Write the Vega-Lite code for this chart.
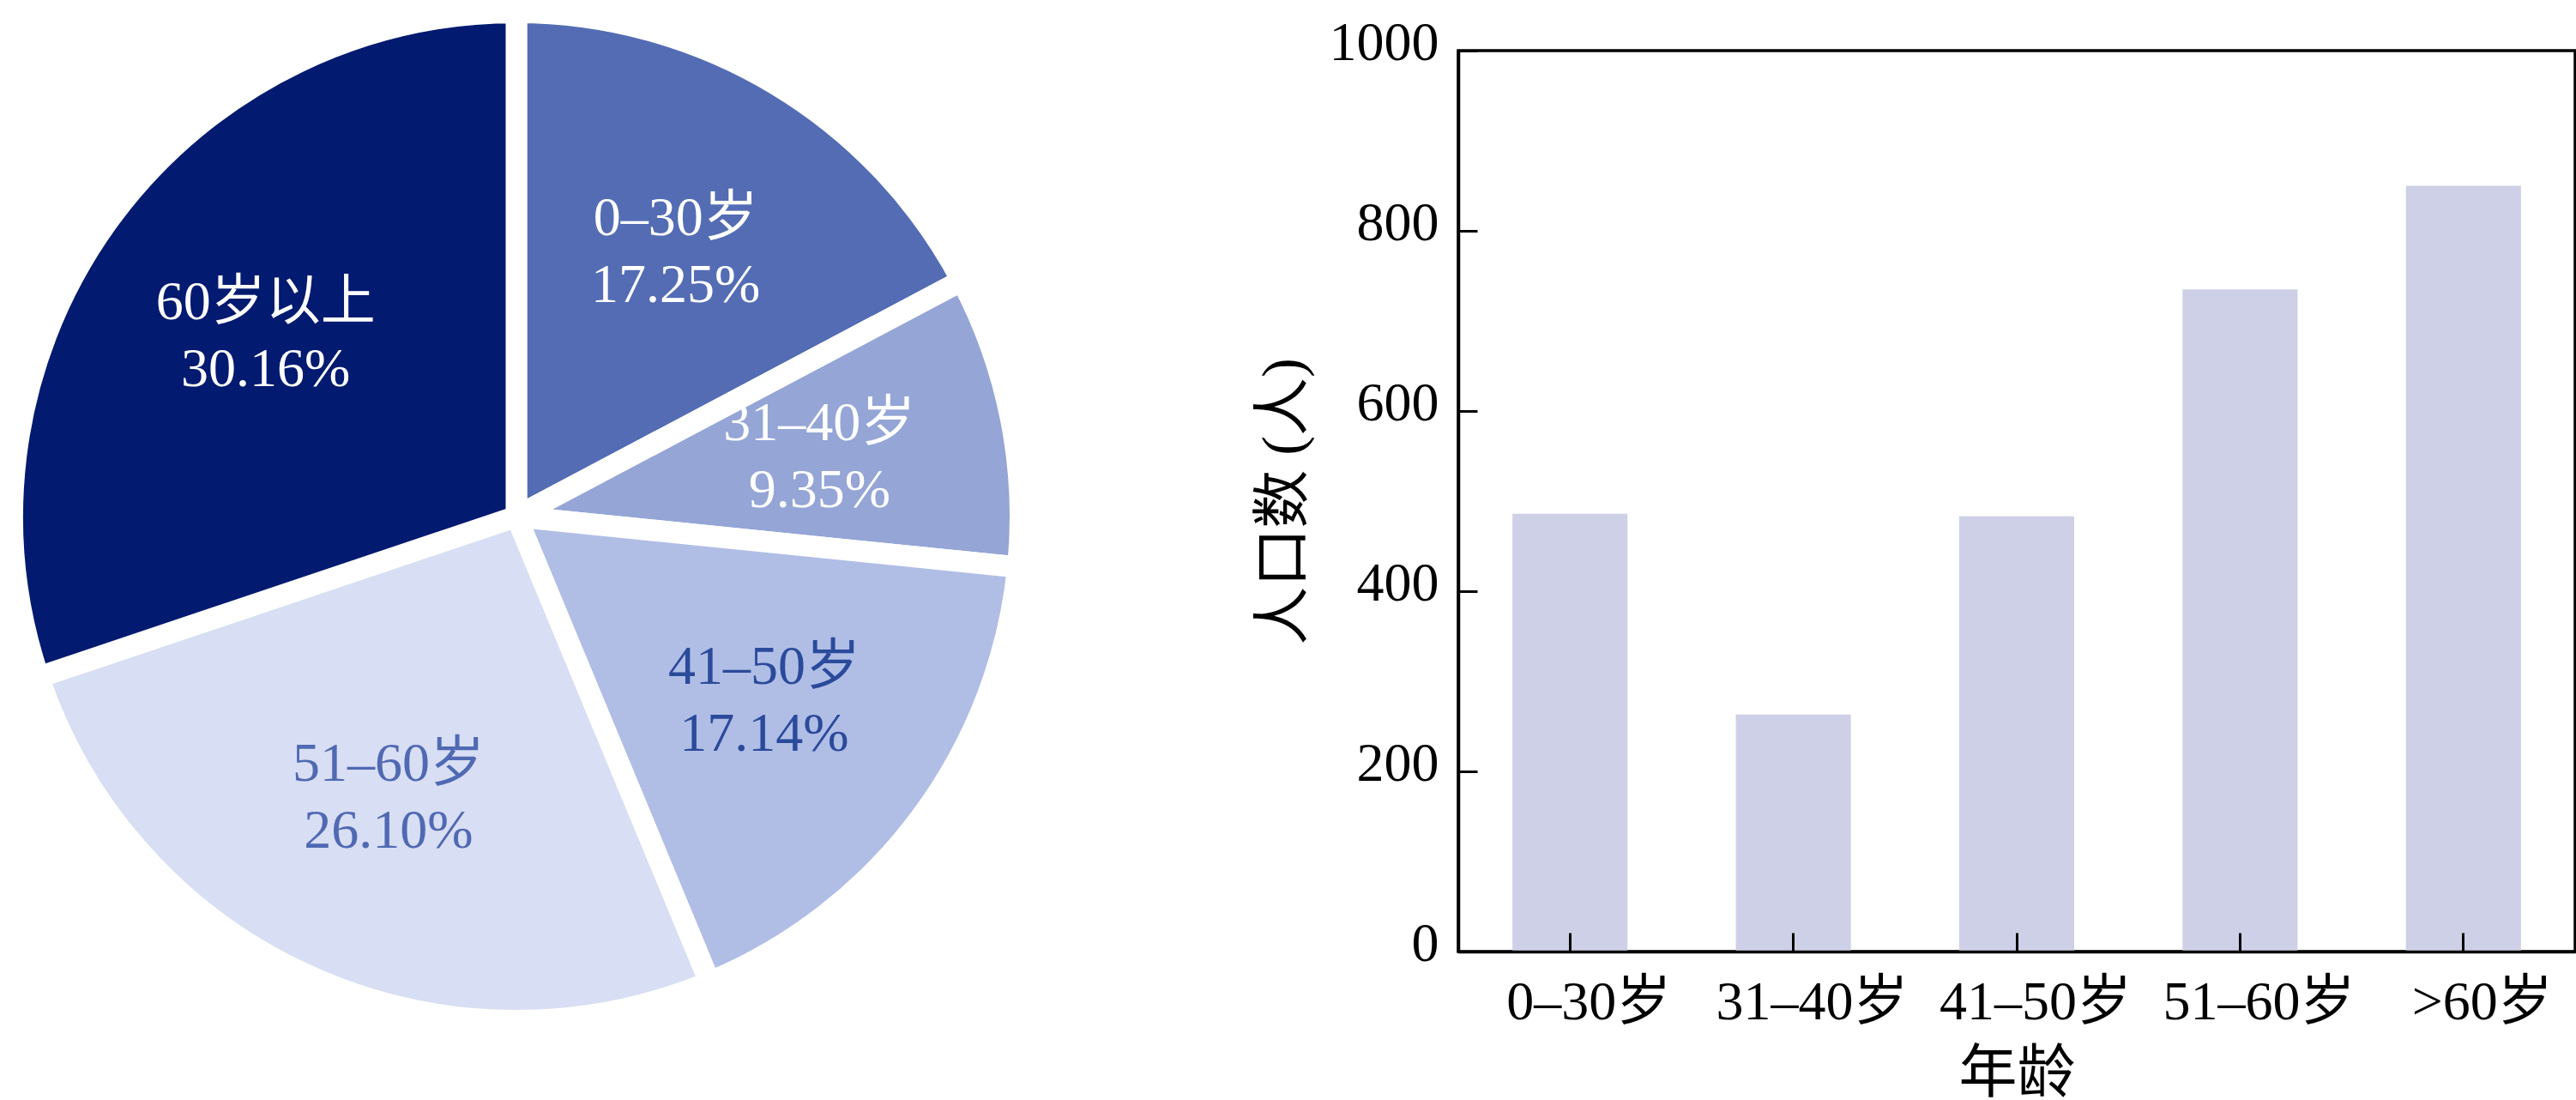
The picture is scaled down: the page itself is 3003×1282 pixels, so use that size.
{
  "$schema": "https://vega.github.io/schema/vega-lite/v6.json",
  "padding": {"left": -36, "top": -36, "right": 0, "bottom": 0},
  "background": "white",
  "bounds": "flush",
  "spacing": 555,
  "data": {
    "values": [
      {"age": "0–30岁", "pie": "0–30岁", "share": 0.1725, "count": 486},
      {"age": "31–40岁", "pie": "31–40岁", "share": 0.0935, "count": 263},
      {"age": "41–50岁", "pie": "41–50岁", "share": 0.1714, "count": 483},
      {"age": "51–60岁", "pie": "51–60岁", "share": 0.2610, "count": 735},
      {"age": ">60岁", "pie": "60岁以上", "share": 0.3016, "count": 850}
    ]
  },
  "hconcat": [
    {
      "width": 1086,
      "height": 1086,
      "view": {"stroke": null},
      "layer": [
        {
          "mark": {"type": "arc", "radius": 587.5, "stroke": "white", "strokeWidth": 25},
          "encoding": {
            "theta": {"field": "share", "type": "quantitative", "stack": true},
            "color": {
              "field": "pie", "type": "nominal", "legend": null,
              "scale": {"range": ["#536cb4", "#94a5d6", "#b0bee6", "#d8def3", "#021a70"]}
            }
          }
        },
        {
          "mark": {"type": "text", "radius": 360, "dy": -39, "fontSize": 64},
          "encoding": {
            "theta": {"field": "share", "type": "quantitative", "stack": true},
            "text": {"field": "pie"},
            "color": {
              "field": "pie", "type": "nominal", "legend": null,
              "scale": {"range": ["#ffffff", "#ffffff", "#2b4a9b", "#5069b3", "#ffffff"]}
            }
          }
        },
        {
          "mark": {"type": "text", "radius": 360, "dy": 39, "fontSize": 64},
          "encoding": {
            "theta": {"field": "share", "type": "quantitative", "stack": true},
            "text": {"field": "share", "format": ".2%"},
            "color": {
              "field": "pie", "type": "nominal", "legend": null,
              "scale": {"range": ["#ffffff", "#ffffff", "#2b4a9b", "#5069b3", "#ffffff"]}
            }
          }
        }
      ],
      "resolve": {"scale": {"color": "independent"}}
    },
    {
      "width": 1302,
      "height": 1050,
      "view": {"stroke": "black", "strokeWidth": 3.5},
      "mark": {"type": "bar", "color": "#cdd0e6"},
      "encoding": {
        "x": {
          "field": "age", "type": "nominal", "sort": null, "title": "年龄",
          "scale": {"paddingInner": 0.485, "paddingOuter": 0.2425},
          "axis": {"labelAngle": 0, "labelLimit": 0, "labelOffset": 22, "tickSize": -22, "labelPadding": 49, "titlePadding": 18, "zindex": 1}
        },
        "y": {
          "field": "count", "type": "quantitative", "title": "人口数 (人)",
          "scale": {"domain": [0, 1000]},
          "axis": {"values": [0, 200, 400, 600, 800, 1000], "format": "d", "labelOffset": -9, "tickSize": -22, "labelPadding": 45, "titlePadding": 18, "zindex": 1}
        }
      }
    }
  ],
  "config": {
    "font": "'Liberation Serif', 'Noto Sans CJK SC', serif",
    "text": {"font": "'Liberation Serif', 'Noto Sans CJK SC', serif"},
    "axis": {
      "grid": false,
      "domainColor": "black",
      "domainWidth": 3.5,
      "tickColor": "black",
      "tickWidth": 3,
      "labelColor": "black",
      "labelFont": "'Liberation Serif', 'Noto Sans CJK SC', serif",
      "labelFontSize": 64,
      "titleColor": "black",
      "titleFont": "'Liberation Serif', 'Noto Sans CJK SC', serif",
      "titleFontSize": 68,
      "titleFontWeight": "normal"
    }
  }
}
